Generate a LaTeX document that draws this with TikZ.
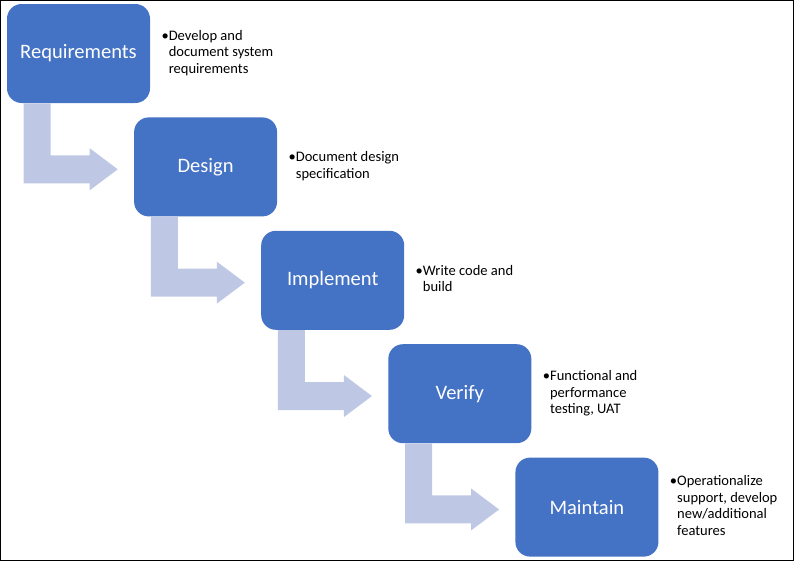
\documentclass[tikz,border=0pt]{standalone}
\usepackage{fontspec}
\setmainfont{Carlito}
\usetikzlibrary{positioning}

\definecolor{phaseblue}{RGB}{68,114,196}
\definecolor{flowgrey}{RGB}{190,200,228}

\tikzset{
  phase/.style={rectangle, rounded corners=11pt, fill=phaseblue, text=white,
    minimum width=107.25pt, minimum height=74.25pt,
    font=\fontsize{15.4}{18}\selectfont},
  note/.style={anchor=west, inner sep=0pt, align=left,
    font=\fontsize{10.9}{12.5}\selectfont},
  flow/.style={fill=flowgrey}
}
\newcommand{\bulletnote}[1]{\textbullet\begin{tabular}[t]{@{}l@{}}#1\end{tabular}}

\begin{document}
\begin{tikzpicture}[x=0.75pt, y=0.75pt, node distance=85.05pt]
	\useasboundingbox (0,0) rectangle (794,-561);
	\draw[line width=0.75pt] (0.5,-0.5) rectangle (793.5,-560.5);

	% phases
	\node[phase] (req) at (78.5,-53.5) {Requirements};
	\node[phase, below of=req, xshift=95.33pt] (des) {Design};
	\node[phase, below of=des, xshift=95.33pt] (imp) {Implement};
	\node[phase, below of=imp, xshift=95.33pt] (ver) {Verify};
	\node[phase, below of=ver, xshift=95.33pt] (mnt) {Maintain};

	% bent arrows between phases
	\foreach \from in {req,des,imp,ver}
		\fill[flow] ([xshift=12.75pt]\from.south west) -- ++(0,-80) -- ++(66,0) -- ++(0,-7)
			-- ++(28,21) -- ++(-28,21) -- ++(0,-7) -- ++(-39,0) -- ++(0,52) -- cycle;

	% notes
	\node[note, right=8.25pt of req] (reqnote) {\bulletnote{Develop and\\document system\\requirements}};
	\node[note, right=8.25pt of des] (desnote) {\bulletnote{Document design\\specification}};
	\node[note, right=8.25pt of imp] (impnote) {\bulletnote{Write code and\\build}};
	\node[note, right=8.25pt of ver] (vernote) {\bulletnote{Functional and\\performance\\testing, UAT}};
	\node[note, right=8.25pt of mnt] (mntnote) {\bulletnote{Operationalize\\support, develop\\new/additional\\features}};
\end{tikzpicture}
\end{document}
